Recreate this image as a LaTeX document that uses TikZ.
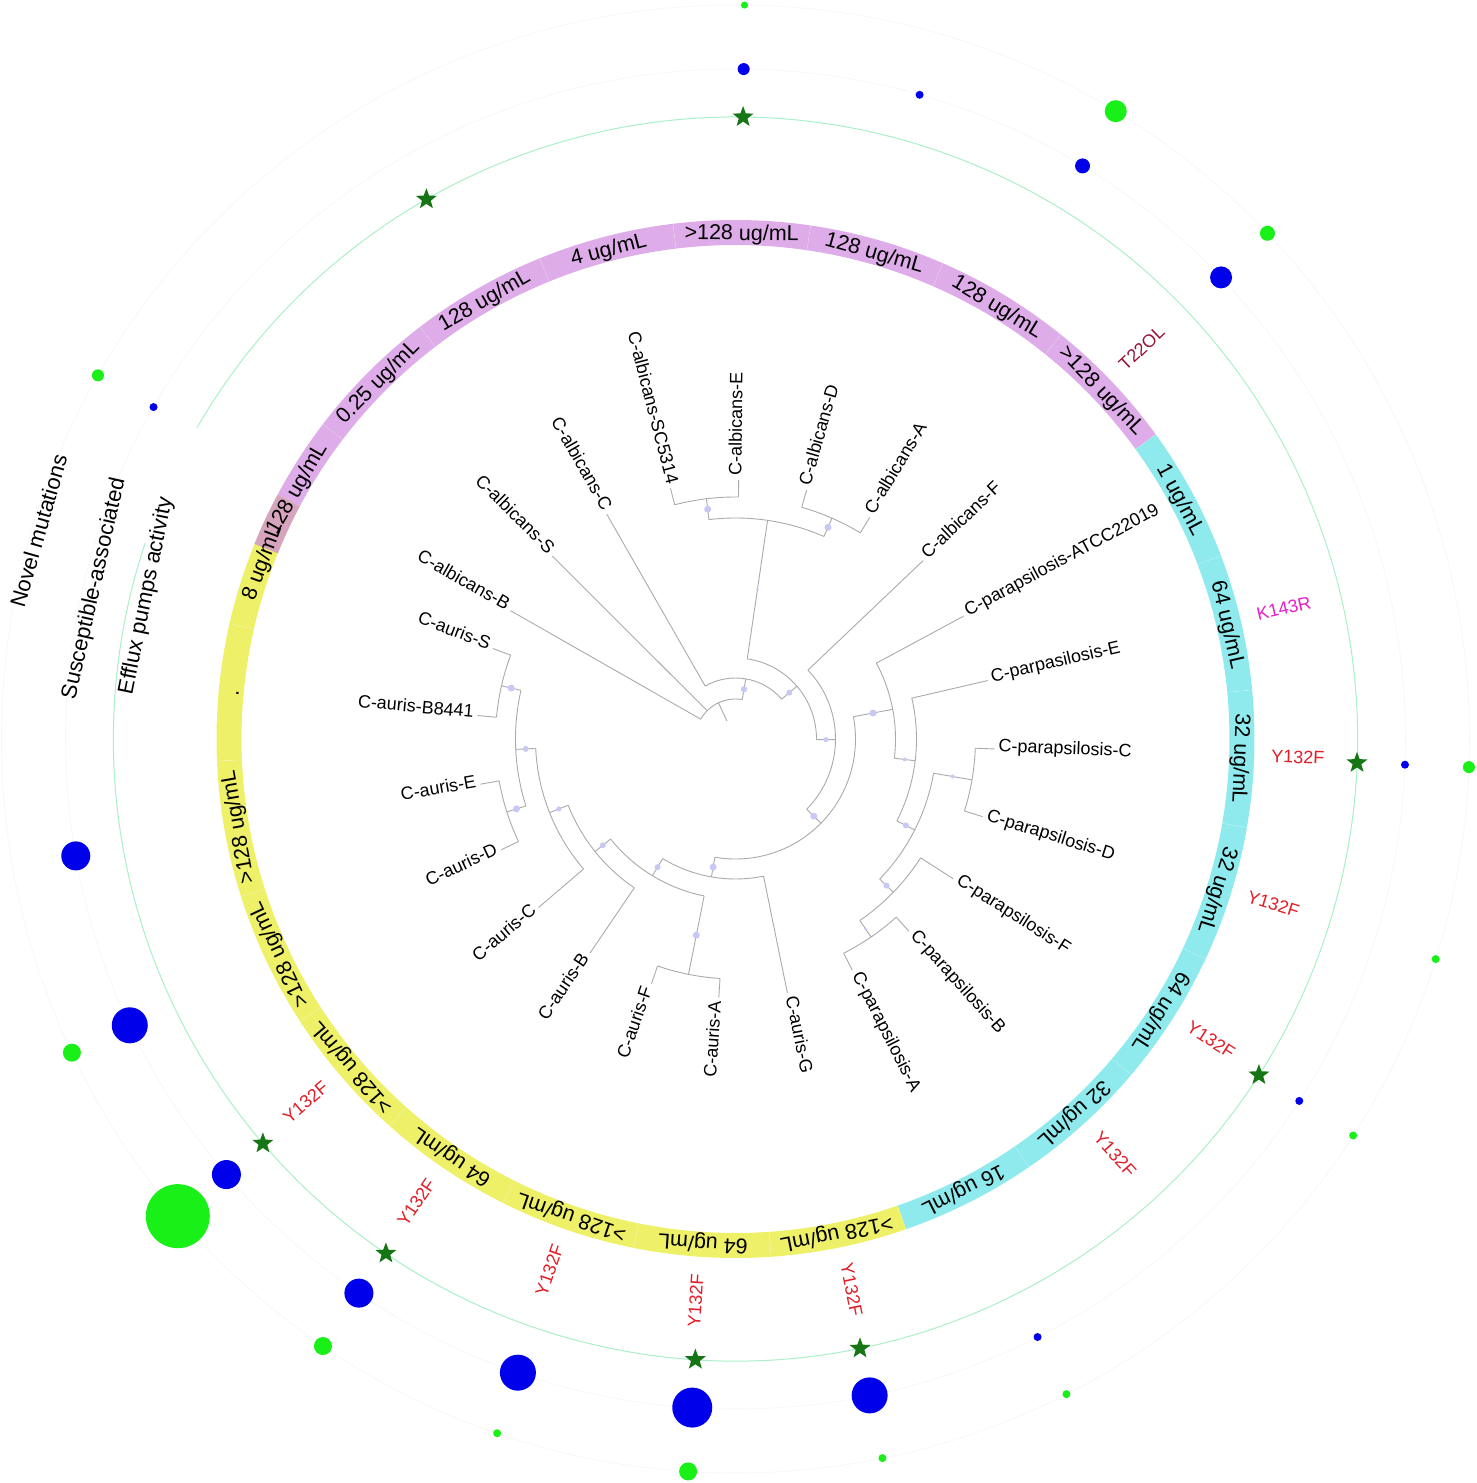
\documentclass[tikz,border=0pt]{standalone}
\usepackage{fontspec}
\setmainfont{Liberation Sans}
\usetikzlibrary{shapes.geometric}
\definecolor{ringP}{RGB}{222,172,232}
\definecolor{ringC}{RGB}{142,234,236}
\definecolor{ringY}{RGB}{238,240,104}
\definecolor{ringO}{RGB}{214,164,190}
\definecolor{treegray}{RGB}{170,170,170}
\definecolor{bootdot}{RGB}{200,200,246}
\definecolor{mint}{RGB}{170,240,200}
\definecolor{faintgray}{RGB}{246,246,246}
\definecolor{stargreen}{RGB}{22,118,22}
\definecolor{dotblue}{RGB}{0,0,235}
\definecolor{dotgreen}{RGB}{24,240,24}
\definecolor{mutred}{RGB}{226,30,40}
\definecolor{mutdark}{RGB}{150,20,55}
\definecolor{mutmag}{RGB}{232,30,200}
\newcommand{\tarc}[3]{\draw[treeline] (#2:#1pt) arc[start angle=#2, end angle=#3, radius=#1pt];}
\newcommand{\tstem}[3]{\draw[treeline] (#1:#2pt) -- (#1:#3pt);}
\begin{document}
\begin{tikzpicture}[x=1pt,y=1pt,
  treeline/.style={draw=treegray, line width=0.9pt},
  leaftext/.style={font=\fontsize{18}{20}\selectfont, inner sep=0pt, text=black},
  ringtext/.style={font=\fontsize{21.5}{23}\selectfont, inner sep=0pt, text=black},
  muttext/.style={font=\fontsize{18}{20}\selectfont, inner sep=0pt},
  legendtext/.style={font=\fontsize{22}{24}\selectfont, inner sep=0pt, text=black},
  starmark/.style={star, star points=5, star point ratio=2.4, fill=stargreen, inner sep=0pt, minimum size=22pt}]
\fill[white] (-735.5pt,-744pt) rectangle (740.5pt,739pt);
\useasboundingbox (-735.5pt,-744pt) rectangle (740.5pt,739pt);

% faint guide circles and outer mint circle
\draw[faintgray, line width=0.6pt] (0,0) circle[radius=670pt];
\draw[faintgray, line width=0.6pt] (0,0) circle[radius=734pt];
\draw[mint, line width=1pt] (161.6:622pt) arc[start angle=161.6, end angle=510, radius=622pt];

% ring segments
\foreach \col [count=\i from 0] in {ringP,ringP,ringP,ringP,ringP,ringP,ringP,ringP,ringC,ringC,ringC,ringC,ringC,ringC,ringC,ringY,ringY,ringY,ringY,ringY,ringY,ringY,ringY,ringY} {
  \pgfmathsetmacro\aa{150.3-15.25*\i+7.625}
  \pgfmathsetmacro\ab{150.3-15.25*\i-7.625}
  \fill[\col] (\aa:494pt) arc[start angle=\aa, end angle=\ab, radius=494pt] -- (\ab:519pt) arc[start angle=\ab, end angle=\aa, radius=519pt] -- cycle;
}
\fill[ringO] (157.925:494pt) arc[start angle=157.925, end angle=151.925, radius=494pt] -- (151.925:519pt) arc[start angle=151.925, end angle=157.925, radius=519pt] -- cycle;
\foreach \i in {1,...,23} {
  \pgfmathsetmacro\aa{150.3-15.25*\i+7.625}
  \draw[white, opacity=0.18, line width=0.8pt] (\aa:494pt) -- (\aa:519pt);
}

% ring texts
\foreach \t [count=\i from 0] in {128 ug/mL, 0.25 ug/mL, 128 ug/mL, 4 ug/mL, >128 ug/mL, 128 ug/mL, 128 ug/mL, >128 ug/mL, 1 ug/mL, 64 ug/mL, 32 ug/mL, 32 ug/mL, 64 ug/mL, 32 ug/mL, 16 ug/mL, >128 ug/mL, 64 ug/mL, >128 ug/mL, 64 ug/mL, >128 ug/mL, >128 ug/mL, >128 ug/mL, ., 8 ug/mL} {
  \pgfmathsetmacro\th{150.3-15.25*\i}
  \pgfmathsetmacro\rt{\th-90}
  \node[ringtext, rotate=\rt, anchor=base] (ring\i) at (\th:499pt) {\t};
}

% tree
\tstem{115.3}{20}{40}
\tarc{40}{150.3}{80.3}
\tstem{150.3}{40}{259}
\tstem{135.05}{40}{259}
\tstem{80.3}{40}{61}
\tarc{61}{119.8}{40.75}
\tstem{119.8}{61}{259}
\tstem{40.75}{61}{81}
\tarc{81}{81.65}{-0.4}
\tstem{81.65}{81}{221}
\tarc{221}{96.9}{66.4}
\tstem{96.9}{221}{242}
\tarc{242}{104.55}{89.3}
\tstem{104.55}{242}{259}
\tstem{89.3}{242}{259}
\tstem{66.4}{221}{241}
\tarc{241}{74.05}{58.8}
\tstem{74.05}{241}{259}
\tstem{58.8}{241}{259}
\tstem{-0.4}{81}{100}
\tarc{100}{43.55}{-44.6}
\tstem{43.55}{100}{259}
\tstem{-44.6}{100}{120}
\tarc{120}{10.7}{-99.9}
\tstem{10.7}{120}{160}
\tarc{160}{28.3}{-6.9}
\tstem{28.3}{160}{259}
\tstem{-6.9}{160}{181}
\tarc{181}{13.05}{-26.9}
\tstem{13.05}{181}{259}
\tstem{-26.9}{181}{201}
\tarc{201}{-9.8}{-44.15}
\tstem{-9.8}{201}{240}
\tarc{240}{-2.2}{-17.45}
\tstem{-2.2}{240}{259}
\tstem{-17.45}{240}{259}
\tstem{-44.15}{201}{220}
\tarc{220}{-32.7}{-55.6}
\tstem{-32.7}{220}{259}
\tstem{-55.6}{220}{240}
\tarc{240}{-47.95}{-63.2}
\tstem{-47.95}{240}{259}
\tstem{-63.2}{240}{259}
\tstem{-99.9}{120}{140}
\tarc{140}{-78.45}{-121.3}
\tstem{-78.45}{140}{259}
\tstem{-121.3}{140}{160}
\tarc{160}{-101.3}{-141.3}
\tstem{-101.3}{160}{240}
\tarc{240}{-93.7}{-108.95}
\tstem{-93.7}{240}{259}
\tstem{-108.95}{240}{259}
\tstem{-141.3}{160}{180}
\tarc{180}{-124.2}{-158.4}
\tstem{-124.2}{180}{259}
\tstem{-158.4}{180}{200}
\tarc{200}{-139.45}{-177.3}
\tstem{-139.45}{200}{259}
\tstem{-177.3}{200}{220}
\tarc{220}{-162.3}{-192.8}
\tstem{-162.3}{220}{240}
\tarc{240}{-154.7}{-169.95}
\tstem{-154.7}{240}{259}
\tstem{-169.95}{240}{259}
\tstem{-192.8}{220}{240}
\tarc{240}{-185.2}{-200.45}
\tstem{-185.2}{240}{259}
\tstem{-200.45}{240}{259}

% bootstrap dots
\foreach \a/\r/\s [count=\k] in {80.3/50.5/3.2, 40.75/71/3, -0.4/90.5/2.6, -44.6/110/3.5, 10.7/140/3.5, -6.9/170.5/2, -26.9/191/3, -9.8/220.5/2, -44.15/210.5/3, -55.6/230/1.5, 81.65/151/1.5, 96.9/231.5/3.5, 66.4/231/3.5, -99.9/130/3.5, -121.3/150/3, -141.3/170/3, -158.4/190/2.6, -177.3/210/3, -192.8/230/3.5, -162.3/230/3.5, -101.3/200/3.5} {
  \fill[bootdot] (\a:\r pt) circle[radius=\s pt];
}

% leaf labels
\foreach \t [count=\i from 0] in {C-albicans-B, C-albicans-S, C-albicans-C, C-albicans-SC5314, C-albicans-E, C-albicans-D, C-albicans-A, C-albicans-F, C-parapsilosis-ATCC22019, C-parpasilosis-E, C-parapsilosis-C, C-parapsilosis-D, C-parapsilosis-F, C-parapsilosis-B, C-parapsilosis-A, C-auris-G, C-auris-A, C-auris-F, C-auris-B, C-auris-C, C-auris-D, C-auris-E, C-auris-B8441, C-auris-S} {
  \pgfmathsetmacro\th{150.3-15.25*\i}
  \pgfmathtruncatemacro\flip{and(\th>-90,\th<90)?0:1}
  \ifnum\flip=0
    \node[leaftext, anchor=mid west, rotate=\th] (leaf\i) at (\th:263pt) {\t};
  \else
    \pgfmathsetmacro\rr{\th+180}
    \node[leaftext, anchor=mid east, rotate=\rr] (leaf\i) at (\th:263pt) {\t};
  \fi
}

% mutation labels
\foreach \i/\t/\c in {7/T22OL/mutdark, 9/K143R/mutmag, 10/Y132F/mutred, 11/Y132F/mutred, 12/Y132F/mutred, 13/Y132F/mutred, 15/Y132F/mutred, 16/Y132F/mutred, 17/Y132F/mutred, 18/Y132F/mutred, 19/Y132F/mutred} {
  \pgfmathsetmacro\th{150.3-15.25*\i}
  \pgfmathtruncatemacro\flip{and(\th>-90,\th<90)?0:1}
  \ifnum\flip=0
    \node[muttext, text=\c, anchor=mid west, rotate=\th] (mut\i) at (\th:536pt) {\t};
  \else
    \pgfmathsetmacro\rr{\th+180}
    \node[muttext, text=\c, anchor=mid east, rotate=\rr] (mut\i) at (\th:536pt) {\t};
  \fi
}

% stars
\foreach \i in {2,4,10,12,15,16,18,19} {
  \pgfmathsetmacro\th{150.3-15.25*\i}
  \node[starmark] (star\i) at (\th:622pt) {};
}

% blue dots
\foreach \i/\s in {0/4, 4/6, 5/4, 6/7.5, 7/11, 10/4, 12/4, 14/4, 15/18, 16/20, 17/18, 18/14.5, 19/14.5, 20/18, 21/14.5} {
  \pgfmathsetmacro\th{150.3-15.25*\i}
  \fill[dotblue] (\th:670pt) circle[radius=\s pt];
}
% green dots
\foreach \i/\s in {0/6, 4/3.5, 6/11, 7/7.5, 10/6, 11/4, 12/4, 14/4, 15/4, 16/9, 17/4, 18/9, 19/32, 20/9} {
  \pgfmathsetmacro\th{150.3-15.25*\i}
  \fill[dotgreen] (\th:734pt) circle[radius=\s pt];
}

% legend
\node[legendtext, rotate=74] (lg1) at (-697pt,208pt) {Novel mutations};
\node[legendtext, rotate=77.3] (lg2) at (-641pt,150.5pt) {Susceptible-associated};
\node[legendtext, rotate=78.5] (lg3) at (-589pt,143pt) {Efflux pumps activity};
\end{tikzpicture}
\end{document}
